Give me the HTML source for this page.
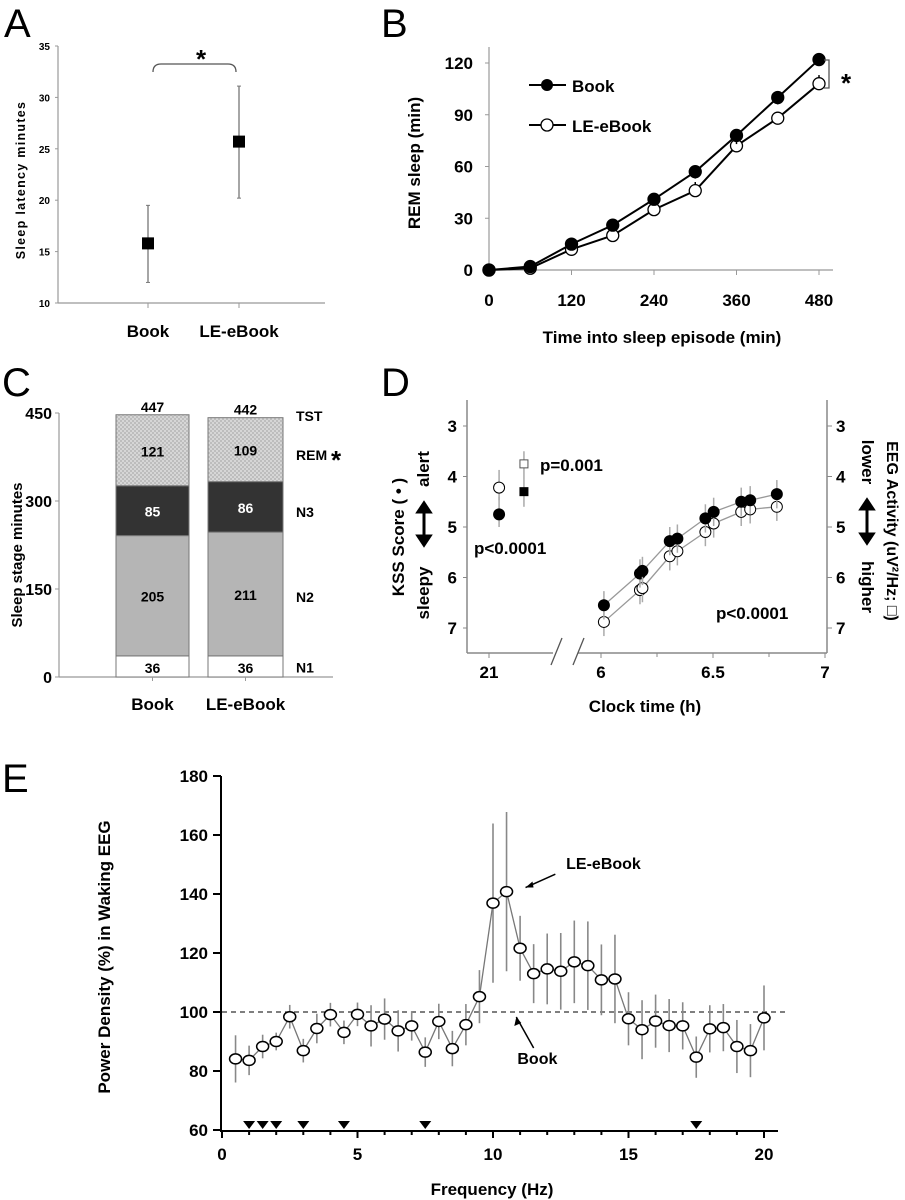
<!DOCTYPE html>
<html><head><meta charset="utf-8"><style>
body{margin:0;background:#fff;}
svg{display:block;font-family:"Liberation Sans",Arial,sans-serif;}
.b{font-weight:bold;}
</style></head><body>
<svg id="fig" width="905" height="1200" viewBox="0 0 905 1200" xmlns="http://www.w3.org/2000/svg">
<defs>
<pattern id="hatch" width="4" height="4" patternUnits="userSpaceOnUse">
<rect width="4" height="4" fill="#d6d6d6"/><rect width="2" height="2" fill="#bdbdbd"/><rect x="2" y="2" width="2" height="2" fill="#bdbdbd"/>
</pattern>
</defs>
<text x="4" y="37" font-size="40">A</text>
<text x="381" y="37" font-size="40">B</text>
<text x="2" y="396" font-size="40">C</text>
<text x="381" y="396" font-size="40">D</text>
<text x="2" y="792" font-size="40">E</text>
<g id="pA"></g>
<g id="pB"></g>
<g id="pC"></g>
<g id="pD"></g>
<g id="pE"></g>
</svg>
<script>
// ---- Panel A data
const aCats=["Book","LE-eBook"];
const aMeans=[15.8,25.7];
const aLow=[12.0,20.2];
const aHigh=[19.5,31.1];
const aTicks=[10,15,20,25,30,35];
// ---- Panel B data
const bTimes=[0,60,120,180,240,300,360,420,480];
const bBook=[0,2,15,26,41,57,78,100,122];
const bLE=[0,1,12,20,35,46,72,88,108];
const bBookErr=[1,1,2,3,3,4,5,4,3];
const bLEErr=[1,1,2,3,4,5,8,3,5];
const bYTicks=[0,30,60,90,120];
const bXTicks=[0,120,240,360,480];
// ---- Panel C data
const cCats=["Book","LE-eBook"];
const cN1=[36,36];
const cN2=[205,211];
const cN3=[85,86];
const cREM=[121,109];
const cTST=[447,442];
const cTicks=[0,150,300,450];
// ---- Panel D data
const dEveBook=[4.75];
const dEveLE=[4.22];
const dEveEEGBook=[4.3];
const dEveEEGLE=[3.75];
const dMornTimes=[6.013,6.174,6.185,6.307,6.341,6.466,6.503,6.626,6.666,6.785];
const dMornBook=[6.55,5.92,5.87,5.28,5.23,4.83,4.70,4.50,4.47,4.35];
const dMornLE=[6.88,6.25,6.21,5.58,5.48,5.10,4.93,4.70,4.65,4.60];
const dYTicks=[3,4,5,6,7];
const dXTicks=[6,6.5,7];
// ---- Panel E data
const eFreq=[0.5,1,1.5,2,2.5,3,3.5,4,4.5,5,5.5,6,6.5,7,7.5,8,8.5,9,9.5,10,10.5,11,11.5,12,12.5,13,13.5,14,14.5,15,15.5,16,16.5,17,17.5,18,18.5,19,19.5,20];
const ePower=[84.1,83.6,88.3,90,98.4,86.9,94.4,99.1,93.1,99.2,95.3,97.6,93.6,95.3,86.4,96.8,87.6,95.7,105.2,136.9,140.8,121.6,113,114.6,113.8,117,115.7,110.9,111.2,97.7,94,96.9,95.4,95.3,84.7,94.3,94.7,88.3,86.9,98];
const eErr=[8,5,4,3,4,4,5,4,4,4,7,7,7,5,5,6,6,7,9,27,27,11,10,12,13,14,15,12,15,9,10,9,9,8,7,8,8,9,9,11];
const eSig=[1,1.5,2,3,4.5,7.5,17.5];
const eYTicks=[60,80,100,120,140,160,180];
const eXTicks=[0,5,10,15,20];

const NS="http://www.w3.org/2000/svg";
function mk(parent,tag,attrs,text){const e=document.createElementNS(NS,tag);for(const k in attrs)e.setAttribute(k,attrs[k]);if(text!==undefined)e.textContent=text;parent.appendChild(e);return e;}

// ===== Panel A
(function(){
const g=document.getElementById('pA');
const y=v=>303-(v-10)*(257/25);
const xs=[148,239];
let e=mk(g,'line',{x1:58,y1:46,x2:58,y2:303,stroke:'#999','stroke-width':1.2});

e=mk(g,'line',{x1:58,y1:303,x2:325,y2:303,stroke:'#999','stroke-width':1.2});

aTicks.forEach(t=>{mk(g,'line',{x1:55,x2:58,y1:y(t),y2:y(t),stroke:'#999'});
e=mk(g,'text',{x:50,y:y(t)+4,'font-size':10,'font-weight':'bold','text-anchor':'end'},t);
});
e=mk(g,'text',{transform:'translate(25,180) rotate(-90)','font-size':12.5,'font-weight':'bold','text-anchor':'middle','letter-spacing':'1.3'},'Sleep latency minutes');

aCats.forEach((c,i)=>{
mk(g,'line',{x1:xs[i],x2:xs[i],y1:303,y2:308,stroke:'#999'});
e=mk(g,'line',{x1:xs[i],x2:xs[i],y1:y(aLow[i]),y2:y(aHigh[i]),stroke:'#777','stroke-width':1.3});

mk(g,'line',{x1:xs[i]-2,x2:xs[i]+2,y1:y(aLow[i]),y2:y(aLow[i]),stroke:'#777'});
mk(g,'line',{x1:xs[i]-2,x2:xs[i]+2,y1:y(aHigh[i]),y2:y(aHigh[i]),stroke:'#777'});
e=mk(g,'rect',{x:xs[i]-6,y:y(aMeans[i])-6,width:12,height:12,fill:'#000'});

e=mk(g,'text',{x:xs[i],y:337,'font-size':17,'font-weight':'bold','text-anchor':'middle'},c);

});
e=mk(g,'path',{d:'M153,72 Q153,64 161,64 L228,64 Q236,64 236,72',fill:'none',stroke:'#555','stroke-width':1.3});

e=mk(g,'text',{x:201,y:68,'font-size':26,'font-weight':'bold','text-anchor':'middle'},'*');

})();

// ===== Panel B
(function(){
const g=document.getElementById('pB');
const x=v=>489+v*(330/480);
const y=v=>270-v*(207/120);
let e=mk(g,'line',{x1:489,y1:47,x2:489,y2:270,stroke:'#999','stroke-width':1.2});

e=mk(g,'line',{x1:489,y1:270,x2:833,y2:270,stroke:'#999','stroke-width':1.2});

bYTicks.forEach(t=>{mk(g,'line',{x1:485,x2:489,y1:y(t),y2:y(t),stroke:'#999'});
e=mk(g,'text',{x:473,y:y(t)+6,'font-size':17,'font-weight':'bold','text-anchor':'end'},t);
});
bXTicks.forEach(t=>{mk(g,'line',{x1:x(t),x2:x(t),y1:270,y2:275,stroke:'#999'});
e=mk(g,'text',{x:x(t),y:306,'font-size':17,'font-weight':'bold','text-anchor':'middle'},t);
});
e=mk(g,'text',{x:662,y:343,'font-size':17,'font-weight':'bold','text-anchor':'middle'},'Time into sleep episode (min)');

e=mk(g,'text',{transform:'translate(420,163) rotate(-90)','font-size':17,'font-weight':'bold','text-anchor':'middle'},'REM sleep (min)');

function series(vals,errs,filled,name){
const pts=bTimes.map((t,i)=>x(t)+','+y(vals[i])).join(' ');
let s=mk(g,'polyline',{points:pts,fill:'none',stroke:'#000','stroke-width':2});

bTimes.forEach((t,i)=>{
const d=filled?-errs[i]:errs[i];
mk(g,'line',{x1:x(t),x2:x(t),y1:y(vals[i]),y2:y(vals[i]+d),stroke:'#000','stroke-width':1.5});
const c=mk(g,'circle',{cx:x(t),cy:y(vals[i]),r:6,fill:filled?'#000':'#fff',stroke:'#000','stroke-width':1.3});
});
}
series(bLE,bLEErr,false,'b-le-ebook');
series(bBook,bBookErr,true,'b-book');
e=mk(g,'line',{x1:529,x2:566,y1:85,y2:85,stroke:'#000','stroke-width':2});
mk(g,'circle',{cx:547,cy:85,r:6,fill:'#000'});
e=mk(g,'text',{x:572,y:92,'font-size':17,'font-weight':'bold'},'Book');

mk(g,'line',{x1:529,x2:566,y1:125,y2:125,stroke:'#000','stroke-width':2});
mk(g,'circle',{cx:547,cy:125,r:6,fill:'#fff',stroke:'#000','stroke-width':1.3});
e=mk(g,'text',{x:572,y:132,'font-size':17,'font-weight':'bold'},'LE-eBook');

e=mk(g,'path',{d:'M824,60 L829,60 L829,88 L824,88',fill:'none',stroke:'#555','stroke-width':1.3});

e=mk(g,'text',{x:846,y:92,'font-size':26,'font-weight':'bold','text-anchor':'middle'},'*');

})();

// ===== Panel C
(function(){
const g=document.getElementById('pC');
const y=v=>677-v*(264/450);
const xs=[[116,189],[208,283]];
let e=mk(g,'line',{x1:59,y1:413,x2:59,y2:677,stroke:'#999','stroke-width':1.2});

e=mk(g,'line',{x1:59,y1:677,x2:333,y2:677,stroke:'#999','stroke-width':1.2});

cTicks.forEach(t=>{mk(g,'line',{x1:55,x2:59,y1:y(t),y2:y(t),stroke:'#999'});
e=mk(g,'text',{x:52,y:y(t)+6,'font-size':16,'font-weight':'bold','text-anchor':'end'},t);
});
e=mk(g,'text',{transform:'translate(22,555) rotate(-90)','font-size':15,'font-weight':'bold','text-anchor':'middle'},'Sleep stage minutes');

const stages=[[cN1,'#fff','#000','n1'],[cN2,'#b5b5b5','#000','n2'],[cN3,'#333','#fff','n3'],[cREM,'url(#hatch)','#000','rem']];
cCats.forEach((c,i)=>{
let base=0;const [x0,x1]=xs[i];
stages.forEach(([arr,fill,tc,nm])=>{
const v=arr[i];
const r=mk(g,'rect',{x:x0,y:y(base+v),width:x1-x0,height:y(base)-y(base+v),fill:fill,stroke:'#777','stroke-width':1});

const t=mk(g,'text',{x:(x0+x1)/2,y:(nm==='n1'?y(base)-4:(y(base)+y(base+v))/2+6),'font-size':14,'font-weight':'bold','text-anchor':'middle',fill:tc},v);

base+=v;});
const t=mk(g,'text',{x:(x0+x1)/2,y:y(cTST[i])-3,'font-size':14,'font-weight':'bold','text-anchor':'middle'},cTST[i]);

mk(g,'line',{x1:(x0+x1)/2,x2:(x0+x1)/2,y1:677,y2:681,stroke:'#999'});
e=mk(g,'text',{x:(x0+x1)/2,y:710,'font-size':17,'font-weight':'bold','text-anchor':'middle'},c);

});
[['TST',y(447)],['REM',y(380)],['N3',y(283)],['N2',y(138)],['N1',y(18)]].forEach(([s,yy])=>{
e=mk(g,'text',{x:296,y:yy+6,'font-size':14,'font-weight':'bold'},s);
});
e=mk(g,'text',{x:336,y:y(380)+15,'font-size':26,'font-weight':'bold','text-anchor':'middle'},'*');

})();

// ===== Panel D
(function(){
const g=document.getElementById('pD');
const y=v=>426+(v-3)*50.5;
const xm=h=>601+(h-6)*224;
const xe=h=>489+(h-21)*224;
const ax='#888';
let e=mk(g,'line',{x1:467,y1:400,x2:467,y2:653,stroke:ax,'stroke-width':1.5});

e=mk(g,'line',{x1:827,y1:400,x2:827,y2:653,stroke:ax,'stroke-width':1.5});

e=mk(g,'path',{d:'M467,653 L553,653 M578,653 L827,653',stroke:ax,'stroke-width':1.5,fill:'none'});

mk(g,'path',{d:'M551,665 L562,638 M573,665 L584,638',stroke:'#555','stroke-width':1.3,fill:'none'});
dYTicks.forEach(t=>{
mk(g,'line',{x1:463,x2:467,y1:y(t),y2:y(t),stroke:ax});
mk(g,'line',{x1:827,x2:832,y1:y(t),y2:y(t),stroke:ax});
e=mk(g,'text',{x:457,y:y(t)+6,'font-size':17,'font-weight':'bold','text-anchor':'end'},t);

e=mk(g,'text',{x:836,y:y(t)+6,'font-size':17,'font-weight':'bold'},t);
});
mk(g,'line',{x1:489,x2:489,y1:653,y2:658,stroke:ax});
e=mk(g,'text',{x:489,y:678,'font-size':17,'font-weight':'bold','text-anchor':'middle'},'21');

dXTicks.forEach(t=>{mk(g,'line',{x1:xm(t),x2:xm(t),y1:653,y2:658,stroke:ax});
e=mk(g,'text',{x:xm(t),y:678,'font-size':17,'font-weight':'bold','text-anchor':'middle'},t);
});
[6.25,6.75].forEach(t=>mk(g,'line',{x1:xm(t),x2:xm(t),y1:653,y2:657,stroke:ax}));
e=mk(g,'text',{x:645,y:712,'font-size':17,'font-weight':'bold','text-anchor':'middle'},'Clock time (h)');

e=mk(g,'text',{transform:'translate(404,537) rotate(-90)','font-size':17,'font-weight':'bold','text-anchor':'middle'},'KSS Score ( • )');

e=mk(g,'text',{transform:'translate(429,469) rotate(-90)','font-size':17,'font-weight':'bold','text-anchor':'middle'},'alert');

e=mk(g,'text',{transform:'translate(429,593) rotate(-90)','font-size':17,'font-weight':'bold','text-anchor':'middle'},'sleepy');

mk(g,'path',{d:'M424,508 L424,540 M418,512 L424,503 L430,512 Z M418,536 L424,545 L430,536 Z',stroke:'#000','stroke-width':3,fill:'#000'});
e=mk(g,'text',{transform:'translate(887,531) rotate(90)','font-size':16,'font-weight':'bold','text-anchor':'middle'},'EEG Activity (uV²/Hz; □)');

e=mk(g,'text',{transform:'translate(862,462) rotate(90)','font-size':17,'font-weight':'bold','text-anchor':'middle'},'lower');

e=mk(g,'text',{transform:'translate(862,587) rotate(90)','font-size':17,'font-weight':'bold','text-anchor':'middle'},'higher');

mk(g,'path',{d:'M867,505 L867,538 M861,509 L867,500 L873,509 Z M861,534 L867,543 L873,534 Z',stroke:'#000','stroke-width':3,fill:'#000'});
const ex1=xe(21.045),ex2=xe(21.156);
[[dEveLE[0],false],[dEveBook[0],true]].forEach(([v,f])=>{
mk(g,'line',{x1:ex1,x2:ex1,y1:y(v-0.35),y2:y(v+0.25),stroke:'#aaa','stroke-width':1.5});
const c=mk(g,'circle',{cx:ex1,cy:y(v),r:5.5,fill:f?'#000':'#fff',stroke:'#000','stroke-width':1});
});
[[dEveEEGLE[0],false],[dEveEEGBook[0],true]].forEach(([v,f])=>{
mk(g,'line',{x1:ex2,x2:ex2,y1:y(v-0.25),y2:y(v+0.3),stroke:'#aaa','stroke-width':1.5});
const r=mk(g,'rect',{x:ex2-4,y:y(v)-4,width:8,height:8,fill:f?'#000':'#fff',stroke:f?'#000':'#555','stroke-width':1});
});
function morn(vals,f,nm){
const s=mk(g,'polyline',{points:dMornTimes.map((t,i)=>xm(t)+','+y(vals[i])).join(' '),fill:'none',stroke:'#999','stroke-width':1.3});

dMornTimes.forEach((t,i)=>{
mk(g,'line',{x1:xm(t),x2:xm(t),y1:y(vals[i]-0.28),y2:y(vals[i]+0.28),stroke:'#aaa','stroke-width':1.5});
const c=mk(g,'circle',{cx:xm(t),cy:y(vals[i]),r:5.5,fill:f?'#000':'#fff',stroke:'#000','stroke-width':1});
});
}
morn(dMornLE,false,'d-morning-le-ebook');
morn(dMornBook,true,'d-morning-book');
e=mk(g,'text',{x:540,y:471,'font-size':17,'font-weight':'bold'},'p=0.001');

e=mk(g,'text',{x:474,y:554,'font-size':17,'font-weight':'bold'},'p<0.0001');

e=mk(g,'text',{x:716,y:619,'font-size':17,'font-weight':'bold'},'p<0.0001');

})();

// ===== Panel E
(function(){
const g=document.getElementById('pE');
const x=v=>222+v*27.1;
const y=v=>1130-(v-60)*(354/120);
let e=mk(g,'line',{x1:221,y1:776,x2:221,y2:1131,stroke:'#000','stroke-width':2});

e=mk(g,'line',{x1:220,y1:1131,x2:778,y2:1131,stroke:'#000','stroke-width':2});

eYTicks.forEach(t=>{mk(g,'line',{x1:213,x2:221,y1:y(t),y2:y(t),stroke:'#000','stroke-width':2});
e=mk(g,'text',{x:208,y:y(t)+6,'font-size':17,'font-weight':'bold','text-anchor':'end'},t);
});
for(let f=0;f<=20;f++){mk(g,'line',{x1:x(f),x2:x(f),y1:1131,y2:f%5===0?1138:1135,stroke:'#000','stroke-width':2});}
eXTicks.forEach(t=>{e=mk(g,'text',{x:x(t),y:1160,'font-size':17,'font-weight':'bold','text-anchor':'middle'},t);
});
e=mk(g,'text',{x:492,y:1195,'font-size':17,'font-weight':'bold','text-anchor':'middle'},'Frequency (Hz)');

e=mk(g,'text',{transform:'translate(110,957) rotate(-90)','font-size':17,'font-weight':'bold','text-anchor':'middle'},'Power Density (%) in Waking EEG');

e=mk(g,'line',{x1:222,x2:785,y1:y(100),y2:y(100),stroke:'#333','stroke-width':1.2,'stroke-dasharray':'5,4'});

eFreq.forEach((f,i)=>{mk(g,'line',{x1:x(f),x2:x(f),y1:y(ePower[i]-eErr[i]),y2:y(ePower[i]+eErr[i]),stroke:'#888','stroke-width':1.6});});
e=mk(g,'polyline',{points:eFreq.map((f,i)=>x(f)+','+y(ePower[i])).join(' '),fill:'none',stroke:'#777','stroke-width':1.3});

eFreq.forEach((f,i)=>{const c=mk(g,'ellipse',{cx:x(f),cy:y(ePower[i]),rx:6,ry:5,fill:'#fff',stroke:'#000','stroke-width':1.5});
});
eSig.forEach(f=>{const p=mk(g,'path',{d:`M${x(f)-6},1121 L${x(f)+6},1121 L${x(f)},1129 Z`,fill:'#000'});
});
e=mk(g,'text',{x:x(12.7),y:y(150.5)+6,'font-size':16,'font-weight':'bold'},'LE-eBook');

mk(g,'path',{d:`M${x(12.3)},${y(146.7)} L${x(11.2)},${y(142.2)}`,stroke:'#000','stroke-width':1.5});
mk(g,'path',{d:`M${x(11.2)},${y(142.2)} l7,-6 l1,6 z`,fill:'#000'});
e=mk(g,'text',{x:x(10.9),y:y(84.4)+6,'font-size':16,'font-weight':'bold'},'Book');

mk(g,'path',{d:`M${x(11.5)},${y(87.8)} L${x(10.86)},${y(98.3)}`,stroke:'#000','stroke-width':1.5});
mk(g,'path',{d:`M${x(10.86)},${y(98.3)} l-2,9 l7,-3 z`,fill:'#000'});
})();
</script>
</body></html>
